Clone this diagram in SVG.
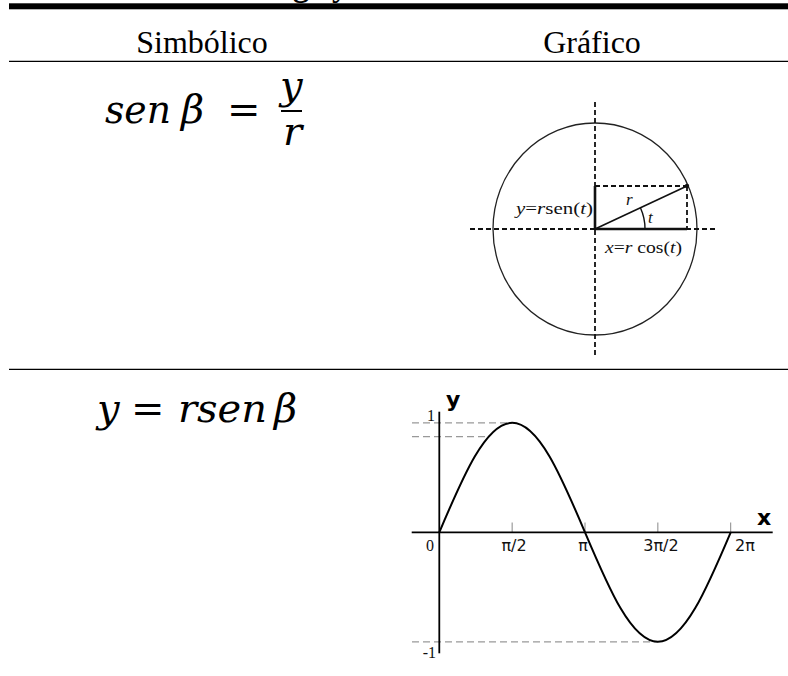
<svg xmlns="http://www.w3.org/2000/svg" width="788" height="676" viewBox="0 0 788 676">
<style>
.hdr{font-family:"Liberation Serif","Times New Roman",serif;font-size:32px;fill:#000}
.math{font-family:"DejaVu Serif",serif;font-style:italic;font-size:40px;fill:#000}
.up{font-family:"DejaVu Serif",serif;font-style:normal;font-size:40px;fill:#000}
.lbl{font-family:"Liberation Serif","Times New Roman",serif;font-size:17px;fill:#111}
.it{font-style:italic}
.tick{font-family:"DejaVu Sans",sans-serif;font-size:16px;fill:#111}
.num{font-family:"Liberation Serif","Times New Roman",serif;font-size:16px;fill:#111}
.axl{font-family:"DejaVu Sans",sans-serif;font-weight:bold;font-size:22px;fill:#000}
.dash{stroke:#111;stroke-width:1.8;stroke-dasharray:5 3;fill:none}
.gdash{stroke:#999;stroke-width:1.2;stroke-dasharray:7 4;fill:none}
</style>
<rect width="788" height="676" fill="#fff"/>

<g id="title-fragment">
<text class="hdr" x="293" y="-4" font-weight="bold">g</text>
<text class="hdr" x="332" y="-4" font-weight="bold">y</text>
</g>

<g id="rules">
<rect x="9" y="3.3" width="779" height="6" fill="#000"/>
<line x1="9" y1="61.3" x2="788" y2="61.3" stroke="#000" stroke-width="1.3"/>
<line x1="9" y1="369.3" x2="788" y2="369.3" stroke="#000" stroke-width="1.3"/>
</g>

<g id="headers">
<text class="hdr" x="202" y="53" text-anchor="middle">Simbólico</text>
<text class="hdr" x="592" y="53" text-anchor="middle">Gráfico</text>
</g>

<g id="formula-sen">
<text class="math" x="105" y="123" textLength="66" lengthAdjust="spacingAndGlyphs">sen</text>
<text class="math" x="181" y="123">β</text>
<text class="up" x="227" y="123">=</text>
<text class="math" x="280" y="99" font-size="30">y</text>
<line x1="281" y1="111" x2="302" y2="111" stroke="#000" stroke-width="2"/>
<text class="math" x="283" y="145" font-size="30">r</text>
</g>

<g id="circle-diagram">
<ellipse cx="595" cy="229" rx="102" ry="106" fill="none" stroke="#222" stroke-width="1.3"/>
<line class="dash" x1="595" y1="102" x2="595" y2="357"/>
<line class="dash" x1="470" y1="229" x2="717" y2="229"/>
<line class="dash" x1="595" y1="186" x2="687" y2="186"/>
<line class="dash" x1="687" y1="186" x2="687" y2="229"/>
<line x1="595" y1="186" x2="595" y2="229" stroke="#111" stroke-width="2.6"/>
<line x1="595" y1="229" x2="687" y2="229" stroke="#111" stroke-width="2.6"/>
<line x1="595" y1="229" x2="687" y2="186" stroke="#111" stroke-width="1.6"/>
<circle cx="687" cy="186" r="2.2" fill="#111"/>
<path d="M645,229 A50,50 0 0 0 640.5,208" fill="none" stroke="#111" stroke-width="1.4"/>
<text class="lbl it" x="626" y="205">r</text>
<text class="lbl it" x="648" y="223">t</text>
<text class="lbl" x="516" y="214" textLength="77" lengthAdjust="spacingAndGlyphs"><tspan class="it">y</tspan>=<tspan class="it">r</tspan>sen(<tspan class="it">t</tspan>)</text>
<text class="lbl" x="605" y="253" textLength="77" lengthAdjust="spacingAndGlyphs"><tspan class="it">x</tspan>=<tspan class="it">r</tspan> cos(<tspan class="it">t</tspan>)</text>
</g>

<g id="formula-y">
<text class="math" x="97" y="422">y</text>
<text class="up" x="131" y="422">=</text>
<text class="math" x="178" y="422" textLength="89" lengthAdjust="spacingAndGlyphs">rsen</text>
<text class="math" x="274" y="422">β</text>
</g>

<g id="sine-graph">
<line class="gdash" x1="412" y1="422.8" x2="512" y2="422.8"/>
<line class="gdash" x1="412" y1="436.7" x2="488" y2="436.7"/>
<line class="gdash" x1="412" y1="641.8" x2="658" y2="641.8"/>
<g stroke="#888" stroke-width="1">
<line x1="512.15" y1="522.5" x2="512.15" y2="532"/>
<line x1="585" y1="522.5" x2="585" y2="532"/>
<line x1="657.85" y1="522.5" x2="657.85" y2="532"/>
<line x1="730.7" y1="522.5" x2="730.7" y2="532"/>
</g>
<line x1="439.3" y1="411.7" x2="439.3" y2="653.3" stroke="#000" stroke-width="1.8"/>
<line x1="411.7" y1="532.3" x2="772.7" y2="532.3" stroke="#000" stroke-width="1.8"/>
<path d="M439.3,532.3 C463.08,476.15 485.79,422.8 512.15,422.8 C538.51,422.8 561.22,476.15 585,532.3 C608.78,588.45 631.49,641.8 657.85,641.8 C684.21,641.8 706.92,588.45 730.7,532.3" fill="none" stroke="#000" stroke-width="2"/>
<text class="axl" x="446" y="407">y</text>
<text class="axl" x="757" y="525">x</text>
<text class="num" x="435" y="421" text-anchor="end">1</text>
<text class="num" x="436" y="658" text-anchor="end">-1</text>
<text class="num" x="430" y="551" text-anchor="middle">0</text>
<text class="tick" x="514" y="551" text-anchor="middle">π/2</text>
<text class="tick" x="583" y="551" text-anchor="middle">π</text>
<text class="tick" x="661" y="551" text-anchor="middle">3π/2</text>
<text class="tick" x="745" y="551" text-anchor="middle">2π</text>
</g>
</svg>
